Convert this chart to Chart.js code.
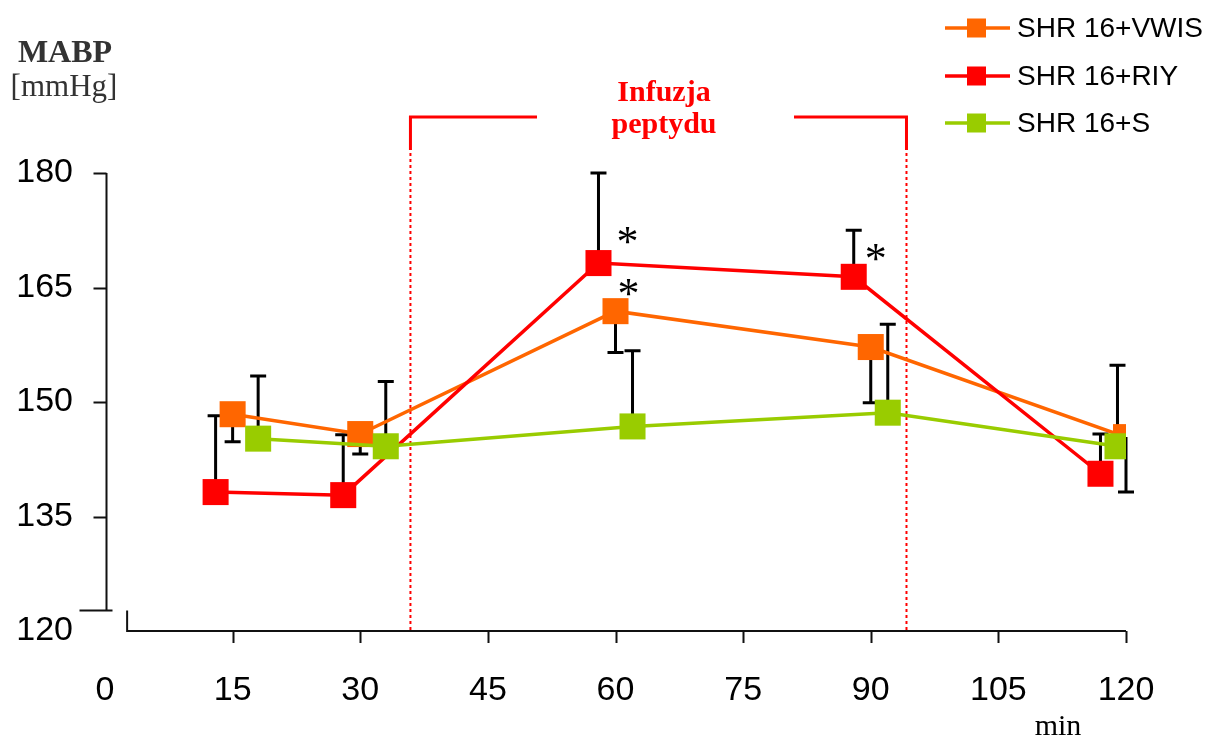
<!DOCTYPE html>
<html><head><meta charset="utf-8">
<script src="https://cdn.jsdelivr.net/npm/chart.js@4/dist/chart.umd.min.js"></script>
<style>html,body{margin:0;padding:0;background:#fff}#wrap{width:1209px;height:736px;position:relative}</style>
</head><body><div id="wrap"><canvas id="c" width="1209" height="736"></canvas></div>
<script>
// ---- data ----
const seriesNames = ['SHR 16+VWIS', 'SHR 16+RIY', 'SHR 16+S'];
const timesVWIS = [15, 30, 60, 90, 120];
const valuesVWIS = [148.4, 145.8, 161.9, 157.2, 145.4];
const errVWIS = [-3.6, -2.6, -5.4, -7.3, -7.2];
const timesRIY = [13, 28, 58, 88, 117];
const valuesRIY = [138.2, 137.8, 168.2, 166.4, 140.6];
const errRIY = [10.0, 7.9, 11.8, 6.1, 5.2];
const timesS = [18, 33, 62, 92, 119];
const valuesS = [145.2, 144.2, 146.8, 148.6, 144.2];
const errS = [8.2, 8.5, 9.9, 11.6, 10.6];
const xTicks = [0, 15, 30, 45, 60, 75, 90, 105, 120];
const yTicks = [120, 135, 150, 165, 180];
const yAxisLow = 122.8;           // where the drawn y axis line stops
const xAxisStart = 2.6;           // where the drawn x axis line starts
const infusionStart = 35.9, infusionEnd = 94.2;
const infusionLabel = ['Infuzja', 'peptydu'];
const significant = [[1, 2], [0, 2], [1, 3]]; // [series, point]
const yTitle = ['MABP', '[mmHg]'];
const xTitle = 'min';

// ---- styles ----
const colors = ['#FF6600', '#FF0000', '#99CC00'];
const drawOrder = [2, 1, 0];
const asteriskOffsets = [[29, -26], [13, -22], [22, -23]];
const SANS = '"Liberation Sans", Arial, sans-serif';
const SERIF = '"Liberation Serif", "Times New Roman", serif';

const allTimes = [timesVWIS, timesRIY, timesS];
const allValues = [valuesVWIS, valuesRIY, valuesS];
const allErr = [errVWIS, errRIY, errS];

const datasets = seriesNames.map((name, s) => ({
  label: name,
  data: allTimes[s].map((t, i) => ({x: t, y: allValues[s][i]})),
  borderColor: colors[s],
  backgroundColor: colors[s],
  borderWidth: 3.5,
  pointStyle: 'rect',
  pointRadius: 18.4,
  pointHoverRadius: 18.4,
  pointBorderWidth: 0,
  order: drawOrder[s],
  tension: 0,
  fill: false
}));

const decor = {
  id: 'decor',
  beforeDatasetsDraw(chart) {
    const ctx = chart.ctx, xs = chart.scales.x, ys = chart.scales.y;
    ctx.save();
    ctx.strokeStyle = '#111';
    ctx.lineWidth = 2;
    // y axis
    const yx = xs.getPixelForValue(0) + 1.5;
    ctx.beginPath();
    ctx.moveTo(yx, ys.getPixelForValue(180));
    ctx.lineTo(yx, ys.getPixelForValue(yAxisLow));
    yTicks.forEach(v => {
      if (v <= yAxisLow) return;
      const py = Math.round(ys.getPixelForValue(v)) + 0.5;
      ctx.moveTo(yx - 13, py); ctx.lineTo(yx, py);
    });
    const by = Math.round(ys.getPixelForValue(yAxisLow)) + 0.5;
    ctx.moveTo(yx - 27, by); ctx.lineTo(yx + 6, by);
    ctx.stroke();
    // x axis
    const ay = ys.getPixelForValue(120);
    const x0 = xs.getPixelForValue(xAxisStart);
    ctx.beginPath();
    ctx.moveTo(x0, by); ctx.lineTo(x0, ay);
    ctx.lineTo(xs.getPixelForValue(120), ay);
    xTicks.forEach(v => {
      if (v < xAxisStart) return;
      const px = Math.round(xs.getPixelForValue(v)) + 0.5;
      ctx.moveTo(px, ay); ctx.lineTo(px, ay + 12);
    });
    ctx.stroke();
    // infusion bracket
    ctx.strokeStyle = '#FF0000';
    ctx.lineWidth = 3;
    const bx1 = xs.getPixelForValue(infusionStart), bx2 = xs.getPixelForValue(infusionEnd);
    const topY = 117, solidEnd = 150;
    ctx.beginPath();
    ctx.moveTo(537, topY); ctx.lineTo(bx1, topY); ctx.lineTo(bx1, solidEnd);
    ctx.moveTo(794, topY); ctx.lineTo(bx2, topY); ctx.lineTo(bx2, solidEnd);
    ctx.stroke();
    ctx.lineWidth = 2;
    ctx.setLineDash([3, 3]);
    ctx.beginPath();
    ctx.moveTo(bx1, solidEnd + 3); ctx.lineTo(bx1, ay);
    ctx.moveTo(bx2, solidEnd + 3); ctx.lineTo(bx2, ay);
    ctx.stroke();
    ctx.setLineDash([]);
    // error bars
    ctx.strokeStyle = '#000';
    ctx.lineWidth = 3;
    chart.data.datasets.forEach((d, s) => {
      const meta = chart.getDatasetMeta(s);
      meta.data.forEach((pt, i) => {
        const yEnd = ys.getPixelForValue(allValues[s][i] + allErr[s][i]);
        ctx.beginPath();
        ctx.moveTo(pt.x, pt.y); ctx.lineTo(pt.x, yEnd);
        ctx.moveTo(pt.x - 8, yEnd); ctx.lineTo(pt.x + 8, yEnd);
        ctx.stroke();
      });
    });
    ctx.restore();
  },
  afterDraw(chart) {
    const ctx = chart.ctx, xs = chart.scales.x, ys = chart.scales.y;
    ctx.save();
    // y title
    ctx.fillStyle = '#333';
    ctx.textAlign = 'center';
    ctx.textBaseline = 'alphabetic';
    ctx.font = 'bold 32px ' + SERIF;
    ctx.fillText(yTitle[0], 65, 62);
    ctx.font = '31px ' + SERIF;
    ctx.fillText(yTitle[1], 64, 96);
    // x title
    ctx.fillStyle = '#000';
    ctx.font = '30px ' + SERIF;
    ctx.fillText(xTitle, 1058, 735);
    // infusion label
    ctx.fillStyle = '#FF0000';
    ctx.font = 'bold 30px ' + SERIF;
    ctx.fillText(infusionLabel[0], 664, 101);
    ctx.fillText(infusionLabel[1], 664, 133);
    // asterisks
    ctx.fillStyle = '#000';
    ctx.font = '44px ' + SERIF;
    significant.forEach(([s, i], k) => {
      const pt = chart.getDatasetMeta(s).data[i];
      ctx.fillText('*', pt.x + asteriskOffsets[k][0], pt.y + asteriskOffsets[k][1] + 19);
    });
    // legend
    const legY = [28, 76, 123];
    ctx.textAlign = 'left';
    ctx.textBaseline = 'middle';
    ctx.font = '28px ' + SANS;
    chart.data.datasets.forEach((d, s) => {
      const y = legY[s];
      ctx.strokeStyle = d.borderColor;
      ctx.lineWidth = 3.5;
      ctx.beginPath(); ctx.moveTo(945, y); ctx.lineTo(1010, y); ctx.stroke();
      ctx.fillStyle = d.backgroundColor;
      ctx.fillRect(967, y - 9.5, 19, 19);
      ctx.fillStyle = '#000';
      ctx.fillText(d.label, 1017, y + 1);
    });
    ctx.restore();
  }
};

new Chart(document.getElementById('c'), {
  type: 'line',
  data: {datasets},
  options: {
    responsive: false,
    animation: false,
    events: [],
    layout: {padding: {top: 173, right: 83, bottom: 0, left: 0}, autoPadding: false},
    plugins: {legend: {display: false}, tooltip: {enabled: false}},
    scales: {
      x: {
        type: 'linear', min: 0, max: 120, position: 'bottom',
        afterBuildTicks: s => { s.ticks = xTicks.map(v => ({value: v})); },
        afterFit: s => { s.height = 105; },
        ticks: {font: {family: SANS, size: 34}, color: '#000', padding: 31, maxRotation: 0, autoSkip: false},
        grid: {display: false}, border: {display: false}
      },
      y: {
        type: 'linear', min: 120, max: 180, position: 'left',
        afterBuildTicks: s => { s.ticks = yTicks.map(v => ({value: v})); },
        afterFit: s => { s.width = 105; },
        ticks: {font: {family: SANS, size: 34}, color: '#000', padding: 24, autoSkip: false},
        grid: {display: false}, border: {display: false}
      }
    }
  },
  plugins: [decor]
});
</script></body></html>
